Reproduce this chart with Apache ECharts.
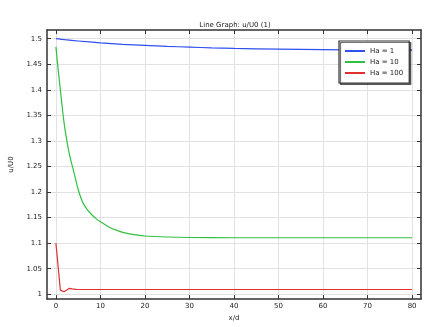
<!DOCTYPE html>
<html>
<head>
<meta charset="utf-8">
<script src="https://cdn.jsdelivr.net/npm/echarts@6/dist/echarts.min.js"></script>
<style>html,body{margin:0;padding:0;background:#fff}#c{width:426px;height:327px}</style>
</head>
<body>
<div id="c"></div>
<script>
var seriesNames = ['Ha = 1', 'Ha = 10', 'Ha = 100'];
var xTicks = [0, 10, 20, 30, 40, 50, 60, 70, 80];
var yTicks = [1, 1.05, 1.1, 1.15, 1.2, 1.25, 1.3, 1.35, 1.4, 1.45, 1.5];

var xHa1 = [0, 2, 5, 10, 15, 20, 25, 30, 35, 40, 50, 60, 70, 80];
var yHa1 = [1.500, 1.498, 1.4955, 1.4918, 1.489, 1.487, 1.485, 1.4835, 1.482, 1.481, 1.4795, 1.4785, 1.478, 1.4775];

var xHa10 = [0, 0.5, 1, 1.5, 2, 3, 4, 5, 6, 7, 8, 9, 10, 12, 14, 16, 18, 20, 25, 30, 40, 60, 80];
var yHa10 = [1.484, 1.44, 1.40, 1.36, 1.325, 1.275, 1.24, 1.205, 1.18, 1.166, 1.156, 1.148, 1.142, 1.131, 1.124, 1.119, 1.116, 1.114, 1.112, 1.111, 1.1105, 1.1105, 1.1105];

var xHa100 = [0, 1, 1.8, 2.4, 3, 3.6, 4.5, 10, 40, 80];
var yHa100 = [1.1, 1.008, 1.005, 1.008, 1.0115, 1.0105, 1.0095, 1.0093, 1.0093, 1.0093];

var colors = ['#3050f0', '#30c040', '#e03030'];
var FONT = 'DejaVu Sans';

function pairs(xs, ys) { return xs.map(function (x, i) { return [x, ys[i]]; }); }

var xMin = -2, xMax = 82, yMin = 0.9905, yMax = 1.517;
var axisLine = { show: true, onZero: false, lineStyle: { color: '#333', width: 1.5 } };

function xAxis(pos, labels) {
  return {
    type: 'value', position: pos, min: xMin, max: xMax,
    name: labels ? 'x/d' : '', nameLocation: 'middle', nameGap: 15,
    nameTextStyle: { fontFamily: FONT, fontSize: 7, color: '#222' },
    axisLine: axisLine,
    axisTick: { show: true, inside: true, length: 4, customValues: xTicks, lineStyle: { color: '#333' } },
    axisLabel: { show: labels, customValues: xTicks, margin: 4, fontFamily: FONT, fontSize: 7, color: '#222' },
    splitLine: { show: labels, lineStyle: { color: '#e2e2e2', width: 1 } }
  };
}
function yAxis(pos, labels) {
  return {
    type: 'value', position: pos, min: yMin, max: yMax,
    name: labels ? 'u/U0' : '', nameLocation: 'middle', nameGap: 32,
    nameTextStyle: { fontFamily: FONT, fontSize: 7, color: '#222' },
    axisLine: axisLine,
    axisTick: { show: true, inside: true, length: 4, customValues: yTicks, lineStyle: { color: '#333' } },
    axisLabel: { show: labels, customValues: yTicks, margin: 5, fontFamily: FONT, fontSize: 7, color: '#222' },
    splitLine: { show: labels, lineStyle: { color: '#e2e2e2', width: 1 } }
  };
}

var chart = echarts.init(document.getElementById('c'), null, { renderer: 'canvas' });
chart.setOption({
  animation: false,
  backgroundColor: '#fff',
  title: {
    text: 'Line Graph: u/U0 (1)', left: 230, top: 17, textAlign: 'center',
    textStyle: { fontFamily: FONT, fontSize: 7, fontWeight: 'normal', color: '#222' }
  },
  grid: { left: 39, right: 5, top: 30, bottom: 21, containLabel: false },
  xAxis: [xAxis('bottom', true), xAxis('top', false)],
  yAxis: [yAxis('left', true), yAxis('right', false)],
  legend: {
    orient: 'vertical', left: 339, top: 41,
    backgroundColor: '#fff', borderColor: '#333', borderWidth: 1.2,
    shadowColor: 'rgba(0,0,0,0.55)', shadowOffsetX: 1.5, shadowOffsetY: 1.5, shadowBlur: 0,
    padding: [5, 6, 5, 6], itemGap: 1, itemWidth: 20, itemHeight: 2, icon: 'rect',
    textStyle: { fontFamily: FONT, fontSize: 7, color: '#222', lineHeight: 10 },
    data: seriesNames
  },
  series: [
    { name: seriesNames[0], type: 'line', data: pairs(xHa1, yHa1), smooth: 0.3, showSymbol: false, lineStyle: { width: 1.2, color: colors[0] }, itemStyle: { color: colors[0] } },
    { name: seriesNames[1], type: 'line', data: pairs(xHa10, yHa10), smooth: 0.3, showSymbol: false, lineStyle: { width: 1.2, color: colors[1] }, itemStyle: { color: colors[1] } },
    { name: seriesNames[2], type: 'line', data: pairs(xHa100, yHa100), smooth: 0, showSymbol: false, lineStyle: { width: 1.2, color: colors[2] }, itemStyle: { color: colors[2] } }
  ]
});
</script>
</body>
</html>
